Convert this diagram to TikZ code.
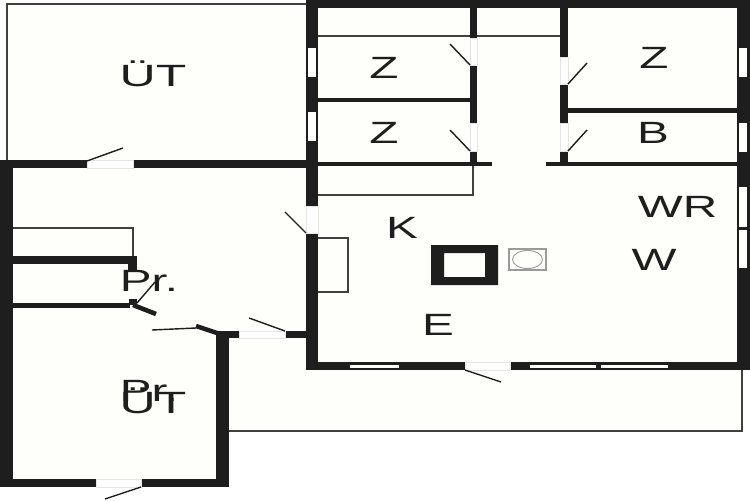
\documentclass[tikz,border=0pt]{standalone}
\usepackage{fontspec}
\setmainfont{Liberation Sans}
\definecolor{wallcol}{HTML}{1E1E1E}
\definecolor{floorcol}{HTML}{FEFEFA}
\tikzset{
	wall/.style={fill=wallcol},
	pane/.style={fill=floorcol},
	doorgap/.style={fill=white, draw=black!10, line width=.3pt},
	leaf/.style={draw=wallcol, line width=.8pt},
	thinline/.style={draw=wallcol!85, line width=.85pt},
	room/.style={text=wallcol, inner sep=0pt, anchor=base, xscale=1.55, font=\fontsize{17.5}{20}\selectfont},
}

\begin{document}
\begin{tikzpicture}[x=.02cm, y=-.02cm]
	\useasboundingbox (0,0) rectangle (750,500);
	\fill[white] (0,0) rectangle (750,500);
	\fill[floorcol] (7,4)--(306,4)--(306,0)--(750,0)--(750,370)--(742,370)--(742,431)--(229,431)--(229,487)--(0,487)--(0,160)--(7,160)--cycle;
	
	% outdoor outlines
	\draw[thinline, line width=1.3pt] (7,160)--(7,4)--(306,4);
	\draw[thinline, line width=1.1pt] (742,370)--(742,431)--(229,431);
	
	% outer walls
	\fill[wall] (306,0) rectangle (750,8);
	\fill[wall] (306,0) rectangle (318,206);
	\fill[wall] (306,233) rectangle (318,370);
	\fill[wall] (737,0) rectangle (750,370);
	\fill[wall] (306,362) rectangle (465,370);
	\fill[wall] (510,362) rectangle (750,370);
	\fill[wall] (0,160) rectangle (87,168);
	\fill[wall] (133,160) rectangle (306,168);
	\fill[wall] (0,160) rectangle (13,487);
	\fill[wall] (0,479) rectangle (96,487);
	\fill[wall] (141,479) rectangle (229,487);
	\fill[wall] (216,331) rectangle (229,487);
	\fill[wall] (216,331) rectangle (239,338);
	\fill[wall] (285,331) rectangle (306,338);
	
	% windows
	\foreach \ya/\yb in {48/77, 112/141} {
		\fill[pane] (308,\ya) rectangle (316,\yb);
	}
	\foreach \ya/\yb in {48/77, 123/152, 187/227, 230/268} {
		\fill[pane] (739,\ya) rectangle (747,\yb);
	}
	\foreach \xa/\xb in {350/399, 530/596, 601/668} {
		\fill[pane] (\xa,365) rectangle (\xb,368);
	}
	
	% inner walls
	\fill[wall] (470,8) rectangle (477,38);
	\fill[wall] (470,65) rectangle (477,123);
	\fill[wall] (470,151) rectangle (477,163);
	\fill[wall] (560,8) rectangle (568,57);
	\fill[wall] (560,84) rectangle (568,123);
	\fill[wall] (560,151) rectangle (568,163);
	\fill[wall] (318,98) rectangle (470,102);
	\fill[wall] (318,162) rectangle (492,166);
	\fill[wall] (546,162) rectangle (737,166);
	\fill[wall] (568,108) rectangle (737,113);
	\fill[wall] (13,256) rectangle (137,264);
	\fill[wall] (128,264) rectangle (137,271);
	\fill[wall] (13,303) rectangle (130,308);
	\fill[wall] (129,299) rectangle (137,305);
	\draw[draw=wallcol, line width=2.6pt] (133,305)--(156,314);
	\draw[draw=wallcol, line width=2.6pt] (196,326)--(217,333);
	
	% door openings
	\foreach \xa/\ya/\xb/\yb in {470/38/477/65, 470/123/477/151, 560/57/568/84, 560/123/568/151, 306/206/318/233, 87/160/133/168, 96/479/141/487, 239/331/285/338, 465/362/510/370} {
		\filldraw[doorgap] (\xa,\ya) rectangle (\xb,\yb);
	}
	
	% thin lines
	\draw[thinline] (318,36)--(470,36) (477,36)--(560,36);
	\draw[thinline] (318,195)--(473,195)--(473,166);
	\draw[thinline] (13,228)--(133,228)--(133,256);
	\draw[thinline] (318,238)--(348,238)--(348,292)--(318,292);
	
	% door leaves
	\foreach \xa/\ya/\xb/\yb in {470/65/450/44, 470/151/450/130, 568/84/587/63, 568/151/587/130, 306/233/285/212, 87/161/123/148, 141/487/105/499, 285/331/249/318, 465/370/501/382, 137/303/155/282, 196/328/152/330} {
		\draw[leaf] (\xa,\ya)--(\xb,\yb);
	}
	
	% chimney and stove
	\fill[wall, even odd rule] (431,245) rectangle (498,285) (444,253) rectangle (485,277);
	\draw[draw=wallcol!45, line width=.6pt] (509,249) rectangle (546,270);
	\draw[draw=wallcol!45, line width=.5pt] (527.5,259.5) ellipse (15 and 9);
	
	\node[room, xscale=1.05] (utA) at (153,87) {ÜT};
	\node[room] (zA) at (384,79) {Z};
	\node[room] (zB) at (384,143) {Z};
	\node[room] (zC) at (654,69) {Z};
	\node[room] (bath) at (653,143) {B};
	\node[room] (wr) at (677.5,217) {WR};
	\node[room] (w) at (654,270) {W};
	\node[room] (k) at (402,238) {K};
	\node[room] (e) at (438,335) {E};
	\node[room] (prA) at (149,291) {Pr.};
	\node[room] (prB) at (149,401) {Pr.};
	\node[room, xscale=1.05] (utB) at (153,413) {ÜT};
\end{tikzpicture}
\end{document}
